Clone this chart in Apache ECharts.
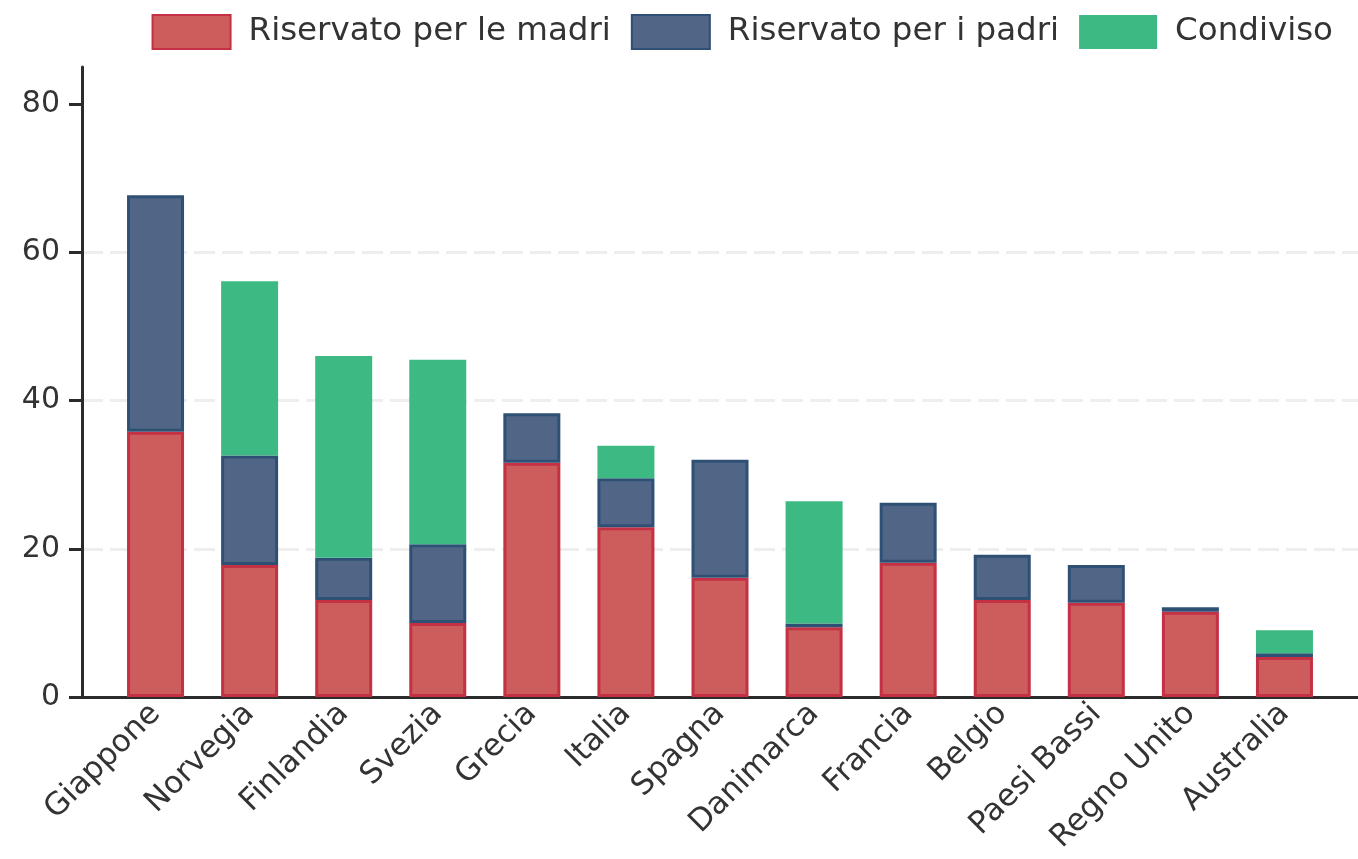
<!DOCTYPE html>
<html>
<head>
<meta charset="utf-8">
<script src="https://cdn.jsdelivr.net/npm/echarts/dist/echarts.min.js"></script>
<style>
  html, body { margin: 0; padding: 0; background: #fff; }
  #chart { width: 1358px; height: 859px; }
</style>
</head>
<body>
<div id="chart"></div>
<script>
// categorie e valori (settimane)
const paesi = ["Giappone", "Norvegia", "Finlandia", "Svezia", "Grecia", "Italia", "Spagna",
  "Danimarca", "Francia", "Belgio", "Paesi Bassi", "Regno Unito", "Australia"];
const madri = [35.8, 17.8, 13.1, 10.0, 31.6, 22.9, 16.1, 9.4, 18.1, 13.1, 12.7, 11.5, 5.4];
const padri = [31.9, 14.8, 5.7, 10.6, 6.7, 6.6, 15.9, 0.5, 8.1, 6.1, 5.1, 0.6, 0.5];
const condiviso = [0, 23.5, 27.2, 24.9, 0, 4.4, 0, 16.5, 0, 0, 0, 0, 3.1];
const yTicks = [0, 20, 40, 60, 80];

const font = "DejaVu Sans";
const axisColor = "#2b2b2b";
const yMax = 85;

const chart = echarts.init(document.getElementById("chart"));

const option = {
  animation: false,
  textStyle: { fontFamily: font },
  legend: {
    top: 9,
    right: 20,
    icon: "rect",
    itemWidth: 78,
    itemHeight: 34,
    itemGap: 20,
    textStyle: { fontSize: 32.5, color: "#333", fontFamily: font, padding: [0, 0, 0, 13] },
    data: ["Riservato per le madri", "Riservato per i padri", "Condiviso"]
  },
  // grid 0: assi visibili a tutta larghezza; grid 1: barre con margine laterale
  grid: [
    { left: 82, right: 0, top: 67, bottom: 162 },
    { left: 108.5, right: 26.5, top: 67, bottom: 162 }
  ],
  xAxis: [
    {
      gridIndex: 0,
      type: "value",
      min: 0,
      max: 1,
      splitLine: { show: false },
      axisTick: { show: false },
      axisLabel: { show: false },
      axisLine: { lineStyle: { color: axisColor, width: 3 } }
    },
    {
      gridIndex: 1,
      type: "category",
      data: paesi,
      axisLine: { show: false },
      axisTick: { show: false },
      axisLabel: {
        interval: 0,
        rotate: 45,
        fontSize: 31,
        margin: 12,
        color: "#333",
        fontFamily: font
      }
    }
  ],
  yAxis: [
    {
      gridIndex: 0,
      type: "value",
      min: 0,
      max: yMax,
      interval: 20,
      axisLine: { show: true, onZero: false, lineStyle: { color: axisColor, width: 3 } },
      axisTick: { show: true, customValues: yTicks, length: 13, lineStyle: { color: axisColor, width: 3 } },
      axisLabel: { customValues: yTicks, fontSize: 30, margin: 22, color: "#333", fontFamily: font },
      splitLine: {
        show: true,
        showMaxLine: false,
        lineStyle: {
          color: ["#eeeeee", "#eeeeee", "#eeeeee", "#eeeeee", "#eeeeee", "rgba(0,0,0,0)"],
          width: 3,
          type: [21, 7]
        }
      }
    },
    {
      gridIndex: 1,
      type: "value",
      min: 0,
      max: yMax,
      show: false
    }
  ],
  series: [
    {
      name: "Riservato per le madri",
      type: "bar",
      stack: "tot",
      xAxisIndex: 1,
      yAxisIndex: 1,
      barWidth: 57,
      itemStyle: { color: "#cd5c5c", borderColor: "#c43044", borderWidth: 3 },
      data: madri
    },
    {
      name: "Riservato per i padri",
      type: "bar",
      stack: "tot",
      xAxisIndex: 1,
      yAxisIndex: 1,
      barWidth: 57,
      itemStyle: { color: "#516687", borderColor: "#2f5075", borderWidth: 3 },
      data: padri
    },
    {
      name: "Condiviso",
      type: "bar",
      stack: "tot",
      xAxisIndex: 1,
      yAxisIndex: 1,
      barWidth: 57,
      itemStyle: { color: "#3dba83" },
      data: condiviso
    }
  ]
};

chart.setOption(option);
</script>
</body>
</html>
